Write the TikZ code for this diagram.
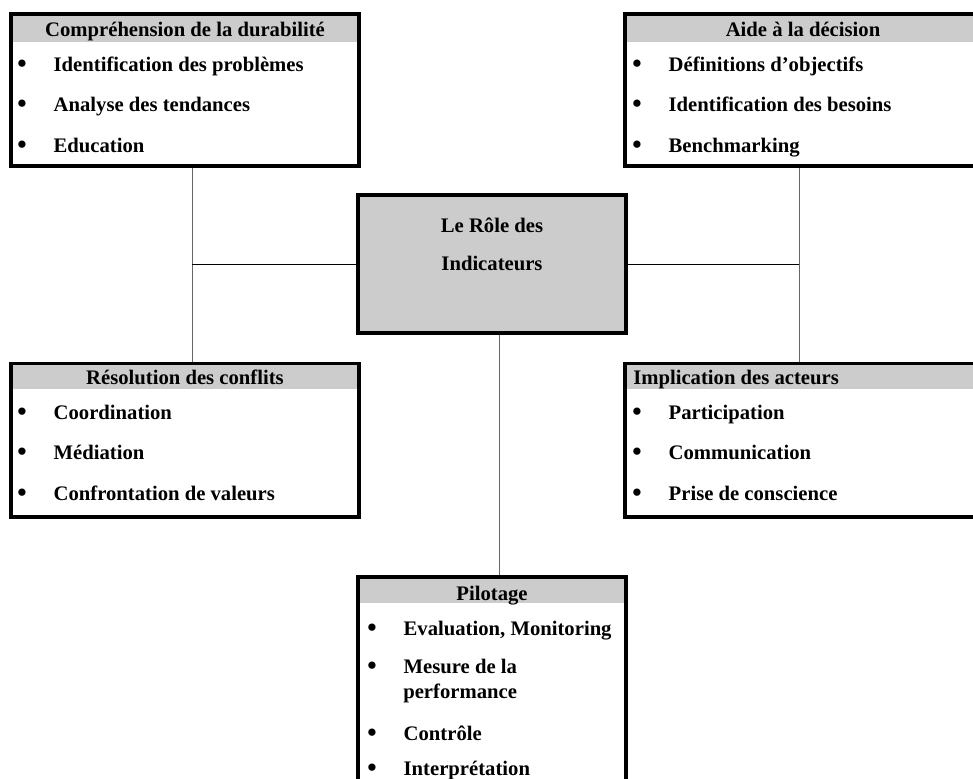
\documentclass[tikz,border=0pt]{standalone}
\usepackage{fontspec}
\setmainfont{Liberation Serif}
\usetikzlibrary{positioning}
\newcommand{\puce}{\makebox[0.91cm][l]{\raisebox{-0.15ex}{\fontsize{19}{19}\selectfont\textbullet}}}

\begin{document}
\begin{tikzpicture}[x=0.025cm, y=-0.025cm,
  every node/.style={font=\fontsize{14.7}{17.6}\selectfont\bfseries},
  boite/.style={draw, line width=0.1cm, inner sep=0pt},
  entete/.style={fill=black!20, inner sep=0pt, minimum height=0.65cm},
  titre/.style={anchor=base, inner sep=0pt},
  item/.style={anchor=base west, inner sep=0pt},
  lien/.style={line width=0.7pt, black!60},
  lienh/.style={line width=0.7pt, black}]
\useasboundingbox (0,0) rectangle (973,778);
\clip (0,0) rectangle (973,778);
% Boites
\node[boite, minimum width=8.72cm, minimum height=3.8cm] (cd) at (185,90) {};
\node[boite, minimum width=9.08cm, minimum height=3.8cm] (ad) at (806.5,90) {};
\node[boite, fill=black!20, minimum width=6.69cm, minimum height=3.44cm] (role) at (492,264) {};
\node[boite, minimum width=8.72cm, minimum height=3.8cm] (rc) at (185,440.5) {};
\node[boite, minimum width=9.08cm, minimum height=3.8cm] (ia) at (806.5,440.5) {};
\node[boite, minimum width=6.69cm, minimum height=6cm] (pil) at (492,697) {};
% Bandeaux
\node[entete, minimum width=8.62cm] (cdH) at (185,29) {};
\node[entete, minimum width=8.98cm] (adH) at (806.5,29) {};
\node[entete, minimum width=8.62cm, minimum height=0.6cm] (rcH) at (185,377) {};
\node[entete, minimum width=8.98cm, minimum height=0.6cm] (iaH) at (806.5,377) {};
\node[entete, minimum width=6.59cm, minimum height=0.6cm] (pilH) at (492,591) {};
% Titres
\node[titre] (cdT) at (185,36) {Compréhension de la durabilité};
\node[titre] (adT) at (803,36) {Aide à la décision};
\node[titre] (rcT) at (185,384) {Résolution des conflits};
\node[item] (iaT) at (633,384) {Implication des acteurs};
\node[titre] (pilT) at (492,600) {Pilotage};
\node[titre] (role1) at (492,232) {Le Rôle des};
\node[titre] (role2) at (492,270) {Indicateurs};
% Listes
\node[item] (cd1) at (17,71) {\puce Identification des problèmes};
\node[item] (cd2) at (17,111) {\puce Analyse des tendances};
\node[item] (cd3) at (17,152) {\puce Education};
\node[item] (ad1) at (632,71) {\puce Définitions d’objectifs};
\node[item] (ad2) at (632,111) {\puce Identification des besoins};
\node[item] (ad3) at (632,152) {\puce Benchmarking};
\node[item] (rc1) at (17,419) {\puce Coordination};
\node[item] (rc2) at (17,459) {\puce Médiation};
\node[item] (rc3) at (17,500) {\puce Confrontation de valeurs};
\node[item] (ia1) at (632,419) {\puce Participation};
\node[item] (ia2) at (632,459) {\puce Communication};
\node[item] (ia3) at (632,500) {\puce Prise de conscience};
\node[item] (pil1) at (367,635) {\puce Evaluation, Monitoring};
\node[item] (pil2) at (367,673) {\puce Mesure de la};
\node[item] (pil2b) at (403,698) {performance};
\node[item] (pil3) at (367,740) {\puce Contrôle};
\node[item] (pil4) at (367,775) {\puce Interprétation};
% Liaisons
\coordinate (jG) at (192,264);
\coordinate (jD) at (799,264);
\coordinate (jB) at (499,450);
\draw[lien] (cd.south -| jG) -- (rc.north -| jG);
\draw[lienh] (jG) -- (role.west);
\draw[lien] (ad.south -| jD) -- (ia.north -| jD);
\draw[lienh] (role.east) -- (jD);
\draw[lien] (role.south -| jB) -- (pil.north -| jB);
\end{tikzpicture}
\end{document}
